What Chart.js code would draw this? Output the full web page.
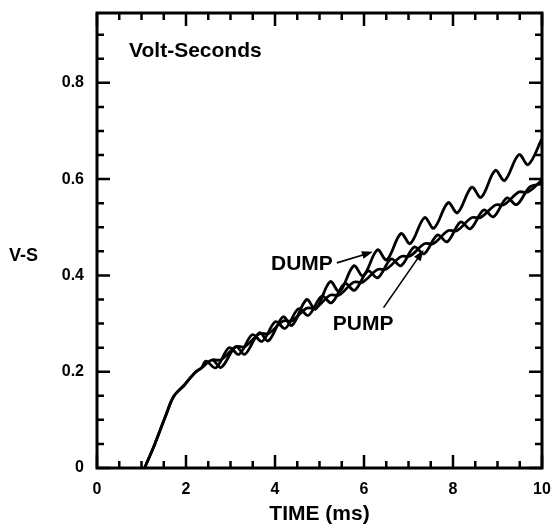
<!DOCTYPE html>
<html>
<head>
<meta charset="utf-8">
<script src="https://cdn.jsdelivr.net/npm/chart.js@4/dist/chart.umd.min.js"></script>
<style>
  html, body { margin: 0; padding: 0; background: #fff; }
</style>
</head>
<body>
<canvas id="myChart" width="553" height="529"></canvas>
<script>
// common rising part of both shots (ms, V-s)
const riseTime = [1.07, 1.3, 1.55, 1.72, 1.97, 2.2, 2.35];
const riseVs = [0, 0.05, 0.11, 0.148, 0.173, 0.198, 0.208];

// DUMP: peaks and troughs of the ripple
const dumpTime = [2.59, 2.79, 3.12, 3.32, 3.65, 3.85, 4.18, 4.38, 4.71, 4.91, 5.24, 5.45, 5.77, 5.98,
  6.30, 6.51, 6.83, 7.04, 7.36, 7.57, 7.89, 8.10, 8.42, 8.63, 8.95, 9.16, 9.48, 9.69, 10.0];
const dumpVs = [0.224, 0.209, 0.252, 0.236, 0.281, 0.264, 0.314, 0.296, 0.350, 0.330, 0.387, 0.366, 0.420, 0.399,
  0.453, 0.432, 0.487, 0.466, 0.520, 0.498, 0.551, 0.530, 0.583, 0.562, 0.618, 0.597, 0.651, 0.630, 0.684];

// PUMP
const pumpTime = [2.45, 2.67, 2.97, 3.19, 3.49, 3.71, 4.01, 4.23, 4.53, 4.75, 5.05, 5.27, 5.57, 5.79,
  6.09, 6.31, 6.61, 6.83, 7.13, 7.35, 7.65, 7.87, 8.17, 8.39, 8.69, 8.91, 9.21, 9.43, 9.73, 10.0];
const pumpVs = [0.222, 0.208, 0.250, 0.236, 0.277, 0.263, 0.304, 0.290, 0.331, 0.317, 0.357, 0.343, 0.383, 0.369,
  0.409, 0.395, 0.434, 0.420, 0.459, 0.445, 0.484, 0.470, 0.511, 0.497, 0.536, 0.522, 0.561, 0.547, 0.584, 0.590];

// second strand running along the PUMP trace
const traceTime = [2.59, 2.79, 3.12, 3.32, 3.65, 3.85, 4.18, 4.38, 4.71, 4.91, 5.24, 5.44, 5.77, 5.97,
  6.30, 6.50, 6.83, 7.03, 7.36, 7.56, 7.89, 8.09, 8.42, 8.62, 8.95, 9.15, 9.48, 9.68, 10.0];
const traceVs = [0.225, 0.225, 0.252, 0.252, 0.279, 0.279, 0.305, 0.306, 0.332, 0.332, 0.359, 0.359, 0.386, 0.386,
  0.412, 0.413, 0.439, 0.440, 0.466, 0.466, 0.493, 0.493, 0.520, 0.520, 0.546, 0.547, 0.573, 0.573, 0.598];

const xTicks = [0, 2, 4, 6, 8, 10];
const yTicks = [0, 0.2, 0.4, 0.6, 0.8];

const FONT = "'Liberation Sans', Arial, sans-serif";

function toPoints(xs, ys) {
  return xs.map((t, i) => ({ x: t, y: ys[i] }));
}

// arrow with filled head
function arrow(ctx, x1, y1, x2, y2) {
  const ang = Math.atan2(y2 - y1, x2 - x1);
  const hl = 11, hw = 4;
  ctx.beginPath();
  ctx.moveTo(x1, y1);
  ctx.lineTo(x2 - hl * 0.8 * Math.cos(ang), y2 - hl * 0.8 * Math.sin(ang));
  ctx.stroke();
  ctx.beginPath();
  ctx.moveTo(x2, y2);
  ctx.lineTo(x2 - hl * Math.cos(ang) + hw * Math.sin(ang), y2 - hl * Math.sin(ang) - hw * Math.cos(ang));
  ctx.lineTo(x2 - hl * Math.cos(ang) - hw * Math.sin(ang), y2 - hl * Math.sin(ang) + hw * Math.cos(ang));
  ctx.closePath();
  ctx.fill();
}

// frame with inward ticks, labels and arrows
const framePlugin = {
  id: "frame",
  afterDatasetsDraw(chart) {
    const { ctx, chartArea: a } = chart;
    const x = chart.scales.x, y = chart.scales.y;
    ctx.save();
    ctx.strokeStyle = "#000";
    ctx.fillStyle = "#000";

    ctx.lineWidth = 3;
    ctx.strokeRect(a.left, a.top, a.right - a.left, a.bottom - a.top);

    ctx.lineWidth = 2.5;
    ctx.beginPath();
    for (let i = 0; i <= 20; i++) {
      const px = x.getPixelForValue(i * 0.5);
      const len = i % 4 === 0 ? 13 : 7;
      ctx.moveTo(px, a.bottom); ctx.lineTo(px, a.bottom - len);
      ctx.moveTo(px, a.top); ctx.lineTo(px, a.top + len);
    }
    for (let i = 0; i <= 18; i++) {
      const py = y.getPixelForValue(i * 0.05);
      const len = i % 4 === 0 ? 13 : 7;
      ctx.moveTo(a.left, py); ctx.lineTo(a.left + len, py);
      ctx.moveTo(a.right, py); ctx.lineTo(a.right - len, py);
    }
    ctx.stroke();

    // texts
    ctx.textBaseline = "middle";
    ctx.textAlign = "left";
    ctx.font = "bold 21px " + FONT;
    ctx.fillText("Volt-Seconds", x.getPixelForValue(0.72), y.getPixelForValue(0.865));
    ctx.fillText("DUMP", x.getPixelForValue(3.91), y.getPixelForValue(0.424));
    ctx.fillText("PUMP", x.getPixelForValue(5.30), y.getPixelForValue(0.299));
    ctx.font = "bold 18px " + FONT;
    ctx.fillText("V-S", 9, y.getPixelForValue(0.44));

    // arrows
    ctx.lineWidth = 1.6;
    arrow(ctx, x.getPixelForValue(5.39), y.getPixelForValue(0.426),
      x.getPixelForValue(6.2), y.getPixelForValue(0.449));
    arrow(ctx, x.getPixelForValue(6.44), y.getPixelForValue(0.333),
      x.getPixelForValue(7.34), y.getPixelForValue(0.453));
    ctx.restore();
  }
};

const ctx = document.getElementById("myChart").getContext("2d");

const lineStyle = {
  borderColor: "#000",
  borderWidth: 2.8,
  pointRadius: 0,
  fill: false,
  tension: 0.35
};

new Chart(ctx, {
  type: "line",
  data: {
    datasets: [
      Object.assign({ label: "DUMP", data: toPoints(riseTime.concat(dumpTime), riseVs.concat(dumpVs)) }, lineStyle),
      Object.assign({ label: "PUMP", data: toPoints(riseTime.concat(pumpTime), riseVs.concat(pumpVs)) }, lineStyle),
      Object.assign({ label: "PUMP trace", data: toPoints(traceTime, traceVs) }, lineStyle)
    ]
  },
  options: {
    responsive: false,
    animation: false,
    devicePixelRatio: 1,
    layout: { padding: { top: 13, right: 11, left: 0, bottom: 0 } },
    plugins: { legend: { display: false }, tooltip: { enabled: false } },
    scales: {
      x: {
        type: "linear",
        min: 0,
        max: 10,
        afterFit(s) { s.height = 61; s.paddingLeft = 0; s.paddingRight = 0; },
        afterBuildTicks(s) { s.ticks = xTicks.map(v => ({ value: v })); },
        grid: { display: false },
        border: { display: false },
        ticks: { padding: 4, color: "#000", font: { family: FONT, size: 16, weight: "bold" } },
        title: {
          display: true,
          text: "TIME (ms)",
          color: "#000",
          font: { family: FONT, size: 21, weight: "bold" },
          padding: { top: 0, bottom: 2 }
        }
      },
      y: {
        type: "linear",
        min: 0,
        max: 0.945,
        afterFit(s) { s.width = 97; s.paddingTop = 0; s.paddingBottom = 0; },
        afterBuildTicks(s) { s.ticks = yTicks.map(v => ({ value: v })); },
        grid: { display: false },
        border: { display: false },
        ticks: {
          padding: 5,
          color: "#000",
          font: { family: FONT, size: 16, weight: "bold" },
          callback: v => String(v)
        }
      }
    }
  },
  plugins: [framePlugin]
});
</script>
</body>
</html>
